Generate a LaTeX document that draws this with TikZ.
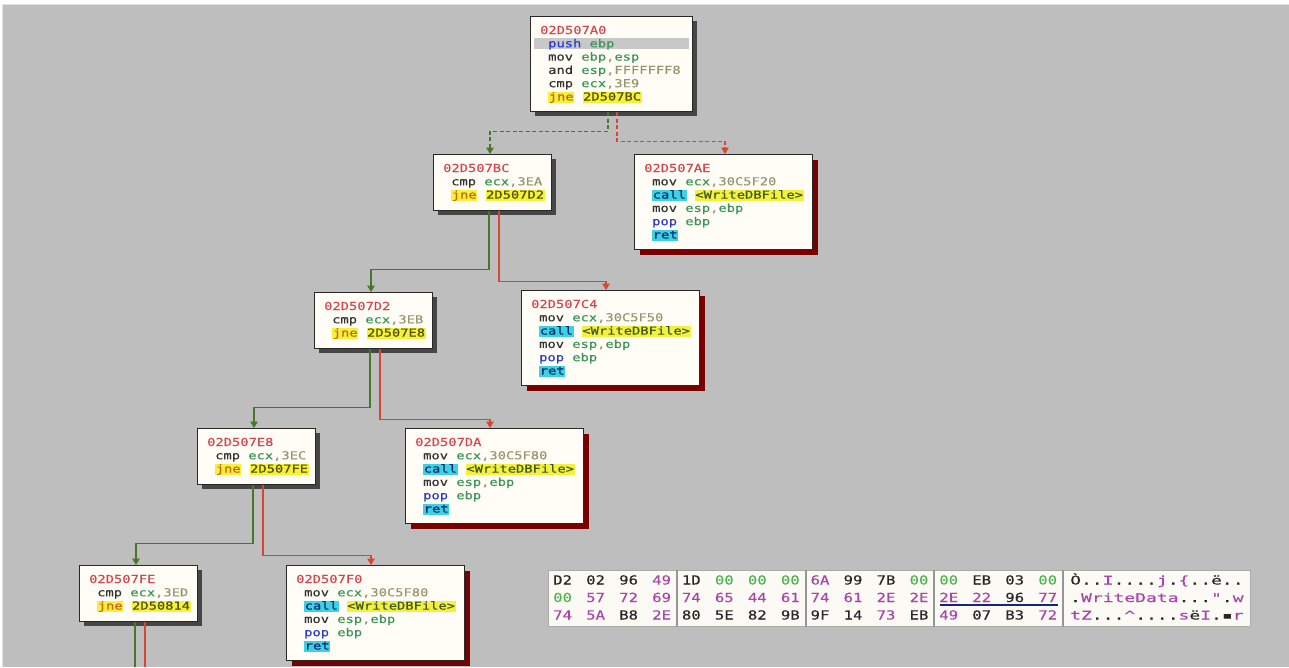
\documentclass[tikz,border=0pt]{standalone}
\usepackage{fontspec}
\usetikzlibrary{arrows.meta,shadows}
\newfontfamily\codefont[FakeStretch=1.25,FakeBold=0.4]{DejaVu Sans Mono}
\newfontfamily\hexfont[FakeStretch=1.25,FakeBold=0.4]{DejaVu Sans Mono}
\newfontfamily\ascfont[FakeStretch=1.5,FakeBold=0.4]{DejaVu Sans Mono}

\definecolor{cbg}{RGB}{190,190,190}
\definecolor{cfill}{RGB}{255,253,245}
\definecolor{cborder}{RGB}{40,40,40}
\definecolor{cshgray}{RGB}{70,70,70}
\definecolor{cshred}{RGB}{120,0,0}
\definecolor{ctitle}{RGB}{210,70,80}
\definecolor{cmn}{RGB}{50,50,50}
\definecolor{cblue}{RGB}{40,60,200}
\definecolor{creg}{RGB}{60,150,90}
\definecolor{cnum}{RGB}{150,150,110}
\definecolor{ccyan}{RGB}{60,210,225}
\definecolor{cnavy}{RGB}{20,40,120}
\definecolor{cyel}{RGB}{245,240,60}
\definecolor{cjne}{RGB}{200,100,20}
\definecolor{ctgt}{RGB}{80,80,0}
\definecolor{cfun}{RGB}{60,90,40}
\definecolor{crow}{RGB}{200,200,200}
\definecolor{cgreen}{RGB}{70,120,40}
\definecolor{cred}{RGB}{215,70,50}
\definecolor{cpanel}{RGB}{252,250,244}
\definecolor{csep}{RGB}{150,150,150}
\definecolor{cframe}{RGB}{225,225,225}
\definecolor{hk}{RGB}{40,40,40}
\definecolor{hg}{RGB}{80,180,80}
\definecolor{hp}{RGB}{170,70,170}

% syntax colouring of the listing
\newcommand\opm[1]{\textcolor{cmn}{#1}}
\newcommand\opb[1]{\textcolor{cblue}{#1}}
\newcommand\rgx[1]{\textcolor{creg}{#1}}
\newcommand\immv[1]{\textcolor{cnum}{#1}}
\newcommand\hlbox[3]{{\setlength{\fboxsep}{0pt}\colorbox{#1}{\kern0.6pt\rule[-2.5pt]{0pt}{10.8pt}\textcolor{#2}{#3}\kern0.6pt}}}
\newcommand\callop{\hlbox{ccyan}{cnavy}{call}}
\newcommand\retop{\hlbox{ccyan}{cnavy}{ret}}
\newcommand\jneop{\hlbox{cyel}{cjne}{jne}}
\newcommand\tgt[1]{\hlbox{cyel}{ctgt}{#1}}
\newcommand\wdb{\hlbox{cyel}{cfun}{<WriteDBFile>}}

\tikzset{
  blk/.style={draw=cborder, line width=1.2pt, fill=cfill, inner sep=0pt, anchor=north west},
  grayshadow/.style={drop shadow={shadow xshift=4pt, shadow yshift=-4pt, fill=cshgray, opacity=1}},
  redshadow/.style={drop shadow={shadow xshift=5pt, shadow yshift=-5pt, fill=cshred, opacity=1}},
  condbox/.style={blk, grayshadow, minimum width=118pt, minimum height=56pt},
  retbox/.style={blk, redshadow, minimum width=178pt, minimum height=95pt},
  code/.style={anchor=base west, inner sep=0pt, font=\codefont\fontsize{11}{12}\selectfont},
  hexbyte/.style={anchor=base west, inner sep=0pt, font=\hexfont\fontsize{12.5}{14}\selectfont},
  ascii/.style={anchor=base west, inner sep=0pt, font=\ascfont\fontsize{12}{14}\selectfont},
  gedge/.style={draw=cgreen, line width=1.2pt, -{Triangle[width=7.5pt,length=6.5pt]}},
  redge/.style={draw=cred, line width=1.2pt, -{Triangle[width=7.5pt,length=6.5pt]}},
  gline/.style={draw=cgreen, line width=1.2pt},
  rline/.style={draw=cred, line width=1.2pt},
  dashes/.style={dash pattern=on 4pt off 2.5pt},
}

% block ending in a conditional jump: name, x, y, address, compared value, target
\newcommand\condblk[6]{%
  \node[condbox] (#1) at (#2,#3) {};
  \node[code] (#1-0) at ([shift={(10,18)}]#1.north west) {\textcolor{ctitle}{#4}};
  \node[code] (#1-1) at ([shift={(18,31.3)}]#1.north west) {\opm{cmp} \rgx{ecx}\immv{,#5}};
  \node[code] (#1-2) at ([shift={(18,44.6)}]#1.north west) {\jneop{} \tgt{#6}};
}
% block that writes the file and returns: name, x, y, address, ecx value
\newcommand\retblk[5]{%
  \node[retbox] (#1) at (#2,#3) {};
  \node[code] (#1-0) at ([shift={(10,18)}]#1.north west) {\textcolor{ctitle}{#4}};
  \node[code] (#1-1) at ([shift={(18,31.3)}]#1.north west) {\opm{mov} \rgx{ecx}\immv{,#5}};
  \node[code] (#1-2) at ([shift={(18,44.6)}]#1.north west) {\callop{} \wdb};
  \node[code] (#1-3) at ([shift={(18,57.9)}]#1.north west) {\opm{mov} \rgx{esp}\immv{,}\rgx{ebp}};
  \node[code] (#1-4) at ([shift={(18,71.2)}]#1.north west) {\opb{pop} \rgx{ebp}};
  \node[code] (#1-5) at ([shift={(18,84.5)}]#1.north west) {\retop};
}
% one line of the hex dump: row index, list of byte/colour
\newcommand\hexrow[2]{%
  \foreach \b/\c [count=\i from 0] in {#2} {
    \pgfmathtruncatemacro\g{floor(\i/4)}
    \pgfmathtruncatemacro\j{mod(\i,4)}
    \node[hexbyte, text=h\c] (hx#1-\i) at ([shift={({5+128.7*\g+33*\j},{14.5+17.5*#1})}]hexview.north west) {\b};
  }%
}

\begin{document}
\begin{tikzpicture}[x=1pt, y=-1pt]
  \useasboundingbox (0,0) rectangle (1289,667);
  \fill[white] (0,0) rectangle (1289,667);
  \fill[cframe] (2,4) rectangle (1289,667);
  \fill[cbg] (3,5) rectangle (1289,667);

  % entry block
  \node[blk, grayshadow, minimum width=162pt, minimum height=95pt] (a0) at (530,16) {};
  \fill[crow] ([shift={(4,21.5)}]a0.north west) rectangle ([shift={(-4,32.5)}]a0.north east);
  \node[code] (a0-0) at ([shift={(10,18)}]a0.north west) {\textcolor{ctitle}{02D507A0}};
  \node[code] (a0-1) at ([shift={(18,31.3)}]a0.north west) {\opb{push} \rgx{ebp}};
  \node[code] (a0-2) at ([shift={(18,44.6)}]a0.north west) {\opm{mov} \rgx{ebp}\immv{,}\rgx{esp}};
  \node[code] (a0-3) at ([shift={(18,57.9)}]a0.north west) {\opm{and} \rgx{esp}\immv{,FFFFFFF8}};
  \node[code] (a0-4) at ([shift={(18,71.2)}]a0.north west) {\opm{cmp} \rgx{ecx}\immv{,3E9}};
  \node[code] (a0-5) at ([shift={(18,84.5)}]a0.north west) {\jneop{} \tgt{2D507BC}};

  % chain of comparisons
  \condblk{bc}{433}{154}{02D507BC}{3EA}{2D507D2}
  \condblk{d2}{314}{292}{02D507D2}{3EB}{2D507E8}
  \condblk{e8}{197}{428}{02D507E8}{3EC}{2D507FE}
  \condblk{fe}{79}{565}{02D507FE}{3ED}{2D50814}

  % write-and-return blocks
  \retblk{ae}{634}{154}{02D507AE}{30C5F20}
  \retblk{c4}{521}{290}{02D507C4}{30C5F50}
  \retblk{da}{405}{428}{02D507DA}{30C5F80}
  \retblk{f0}{286}{565}{02D507F0}{30C5F80}

  % branches
  \draw[gedge, dashes] ([xshift=78pt]a0.south west) -- ++(0,19) -| ([xshift=57pt]bc.north west);
  \draw[redge, dashes] ([xshift=87pt]a0.south west) -- ++(0,29) -| ([xshift=91pt]ae.north west);

  \draw[gedge] ([xshift=56pt]bc.south west) -- ++(0,58) -| ([xshift=57pt]d2.north west);
  \draw[redge] ([xshift=66pt]bc.south west) -- ++(0,70) -| ([xshift=85pt]c4.north west);

  \draw[gedge] ([xshift=56pt]d2.south west) -- ++(0,58) -| ([xshift=57pt]e8.north west);
  \draw[redge] ([xshift=66pt]d2.south west) -- ++(0,70) -| ([xshift=85pt]da.north west);

  \draw[gedge] ([xshift=56pt]e8.south west) -- ++(0,58) -| ([xshift=57pt]fe.north west);
  \draw[redge] ([xshift=66pt]e8.south west) -- ++(0,70) -| ([xshift=85pt]f0.north west);

  \coordinate (fegend) at (135,667);
  \coordinate (ferend) at (145,667);
  \draw[gline] ([xshift=56pt]fe.south west) -- (fegend);
  \draw[rline] ([xshift=66pt]fe.south west) -- (ferend);

  % hex dump pane
  \node[draw=csep!80, line width=1pt, fill=cpanel, inner sep=0pt, anchor=north west,
        minimum width=702pt, minimum height=56pt] (hexview) at (548,570) {};
  \foreach \dx in {129,258,386,515}
    \draw[csep, line width=1.6pt] ([xshift=\dx pt]hexview.north west) -- ([xshift=\dx pt]hexview.south west);

  \hexrow{0}{D2/k,02/k,96/k,49/p,1D/k,00/g,00/g,00/g,6A/p,99/k,7B/k,00/g,00/g,EB/k,03/k,00/g}
  \hexrow{1}{00/g,57/p,72/p,69/p,74/p,65/p,44/p,61/p,74/p,61/p,2E/p,2E/p,2E/p,22/p,96/k,77/p}
  \hexrow{2}{74/p,5A/p,B8/k,2E/p,80/k,5E/k,82/k,9B/k,9F/k,14/k,73/p,EB/k,49/p,07/k,B3/k,72/p}

  \draw[cnavy, line width=2pt] ([shift={(392,35)}]hexview.north west) -- ([shift={(510,35)}]hexview.north west);

  \node[ascii] (asc0) at ([shift={(522,14.5)}]hexview.north west)
    {\textcolor{hk}{Ò..}\textcolor{hp}{I}\textcolor{hk}{....}\textcolor{hp}{j}\textcolor{hk}{.}\textcolor{hp}{\{}\textcolor{hk}{..ë..}};
  \node[ascii] (asc1) at ([shift={(522,32)}]hexview.north west)
    {\textcolor{hk}{.}\textcolor{hp}{WriteData}\textcolor{hk}{...}\textcolor{hp}{"}\textcolor{hk}{.}\textcolor{hp}{w}};
  \node[ascii] (asc2) at ([shift={(522,49.5)}]hexview.north west)
    {\textcolor{hp}{tZ}\textcolor{hk}{...}\textcolor{hp}{\textasciicircum}\textcolor{hk}{....}\textcolor{hp}{s}\textcolor{hk}{ë}\textcolor{hp}{I}\textcolor{hk}{.▪}\textcolor{hp}{r}};
\end{tikzpicture}
\end{document}
